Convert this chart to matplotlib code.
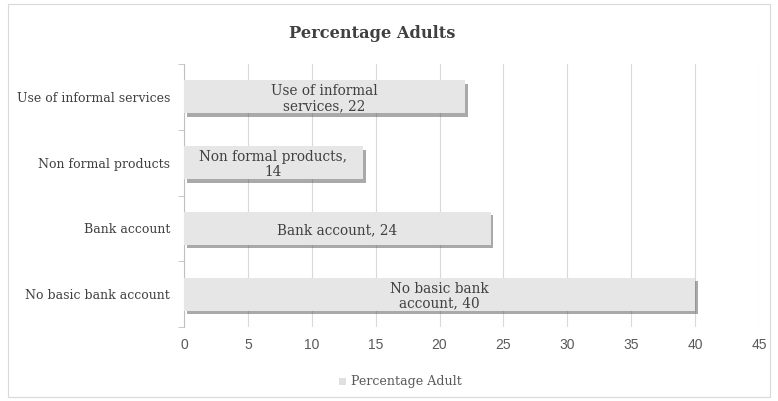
import matplotlib
matplotlib.use("Agg")
import matplotlib.pyplot as plt
import matplotlib.patheffects as pe
from matplotlib.patches import Rectangle

# data (bottom to top)
categories = ["No basic bank account", "Bank account", "Non formal products", "Use of informal services"]
values = [40, 24, 14, 22]
bar_labels = ["No basic bank\naccount, 40", "Bank account, 24", "Non formal products,\n14", "Use of informal\nservices, 22"]
x_ticks = [0, 5, 10, 15, 20, 25, 30, 35, 40, 45]

serif = ["DejaVu Serif"]
sans = ["Liberation Sans", "DejaVu Sans"]

fig = plt.figure(figsize=(7.78, 4.01), dpi=100)
fig.patch.set_facecolor("white")
fig.patches.append(Rectangle((8 / 778, 4 / 401), 762 / 778, 393 / 401, transform=fig.transFigure,
                             fill=False, edgecolor="#d9d9d9", linewidth=0.8))

ax = fig.add_axes([184 / 778, 1 - 327 / 401, 575 / 778, 263 / 401])
ypos = list(range(len(categories)))
bars = ax.barh(ypos, values, height=0.5, color="#e6e6e6", zorder=3)
for b in bars:
    b.set_path_effects([pe.SimplePatchShadow(offset=(2, -2.5), shadow_rgbFace="#555555", alpha=0.5), pe.Normal()])

for y, v, lab in zip(ypos, values, bar_labels):
    ax.text(v / 2, y - 0.03, lab, ha="center", va="center", fontsize=9.8, family=serif, color="#404040",
            linespacing=1.1, zorder=4)

ax.set_xlim(0, 45)
ax.set_ylim(-0.5, len(categories) - 0.5)
ax.set_xticks(x_ticks)
ax.set_xticklabels([str(t) for t in x_ticks], family=sans, fontsize=10, color="#595959")
ax.set_yticks(ypos)
ax.set_yticklabels(categories, family=serif, fontsize=9.0, color="#404040")
ax.set_yticks([y - 0.5 for y in range(len(categories) + 1)], minor=True)
ax.tick_params(axis="y", which="major", length=0, pad=10)
ax.tick_params(axis="y", which="minor", length=4, color="#bfbfbf")
ax.tick_params(axis="x", length=0, pad=8)
ax.grid(axis="x", color="#d9d9d9", linewidth=0.8, zorder=0)
for s in ["top", "right", "bottom"]:
    ax.spines[s].set_visible(False)
ax.spines["left"].set_color("#bfbfbf")

fig.text(372 / 778, 1 - 33 / 401, "Percentage Adults", ha="center", va="center", fontsize=11.7,
         fontweight="bold", family=serif, color="#404040")

fig.patches.append(Rectangle((339 / 778, 1 - 385 / 401), 7 / 778, 7 / 401, transform=fig.transFigure,
                             facecolor="#e0e0e0", edgecolor="none"))
fig.text(351 / 778, 1 - 381 / 401, "Percentage Adult", ha="left", va="center", fontsize=9.1,
         family=serif, color="#595959")

fig.savefig("out.png", dpi=100, facecolor="white")
